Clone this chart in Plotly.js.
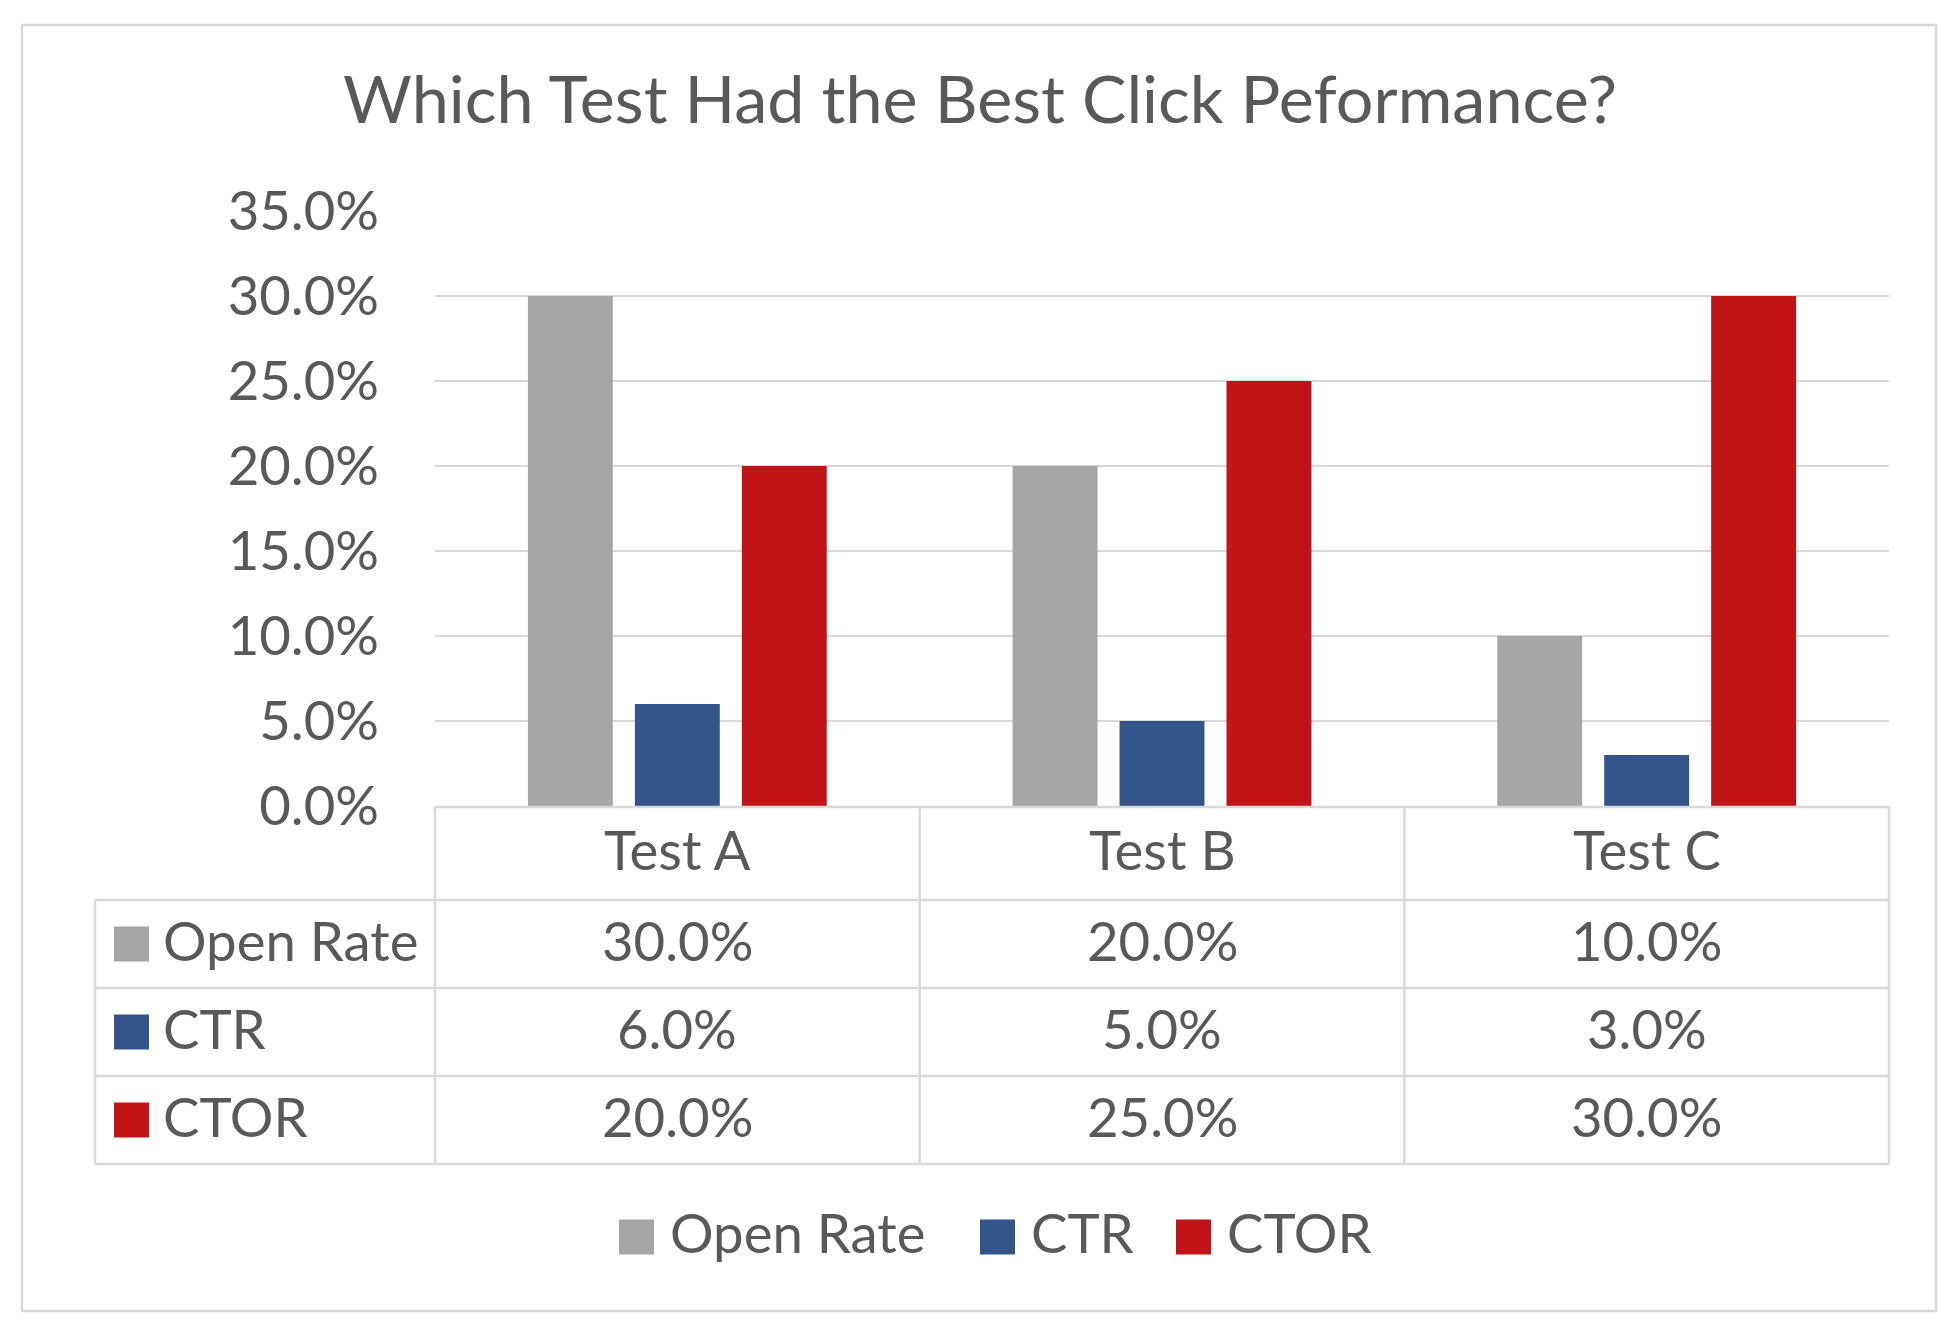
<!DOCTYPE html>
<html><head><meta charset="utf-8">
<script src="https://cdn.plot.ly/plotly-3.0.1.min.js"></script>
<style>html,body{margin:0;padding:0;background:#fff}#chart{width:1957px;height:1344px}</style>
</head><body><div id="chart"></div>
<script>
// ---- data ----
const categories = ['Test A', 'Test B', 'Test C'];
const seriesNames = ['Open Rate', 'CTR', 'CTOR'];
const openRate = [0.30, 0.20, 0.10];
const ctr = [0.06, 0.05, 0.03];
const ctor = [0.20, 0.25, 0.30];
const seriesColors = ['#a6a6a6', '#345589', '#c01416'];
const chartTitle = 'Which Test Had the Best Click Peformance?';

// ---- layout helpers ----
const W = 1957, H = 1344;
const L = 435, R = 1889, T = 211, B = 806;
const px = x => (x - L) / (R - L);
const py = y => (B - y) / (B - T);
const FONT = 'Lato, "Open Sans", sans-serif';
const TXT = '#595959';
const GRID = '#d9d9d9';
const FS = 54.5;
const series = [openRate, ctr, ctor];
const fmt = v => (v * 100).toFixed(1) + '%';

const traces = series.map((vals, i) => ({
  type: 'bar', x: categories, y: vals, name: seriesNames[i],
  marker: {color: seriesColors[i], line: {width: 0}}, showlegend: false
}));

const shapes = [];
const annotations = [];

// outer frame
shapes.push({type: 'rect', xref: 'paper', yref: 'paper', x0: px(22), x1: px(1936), y0: py(25), y1: py(1311),
  line: {color: GRID, width: 2.5}, layer: 'below'});

// data table grid
const rowLines = [807, 900, 988, 1076, 1164];
const tableLeft = 95;
const colW = (R - L) / categories.length;
rowLines.forEach((y, i) => {
  shapes.push({type: 'line', xref: 'paper', yref: 'paper', x0: px(i === 0 ? L : tableLeft), x1: px(R), y0: py(y), y1: py(y),
    line: {color: GRID, width: 2.5}});
});
for (let c = 0; c <= categories.length; c++) {
  const x = L + c * colW;
  shapes.push({type: 'line', xref: 'paper', yref: 'paper', x0: px(x), x1: px(x), y0: py(807), y1: py(1164),
    line: {color: GRID, width: 2.5}});
}
shapes.push({type: 'line', xref: 'paper', yref: 'paper', x0: px(tableLeft), x1: px(tableLeft), y0: py(900), y1: py(1164),
  line: {color: GRID, width: 2.5}});

const TEXT_SHIFT = -4;
// header row (category labels)
categories.forEach(cat => {
  annotations.push({xref: 'x', yref: 'paper', x: cat, y: py(853 + TEXT_SHIFT), text: cat, showarrow: false,
    xanchor: 'center', yanchor: 'middle', font: {family: FONT, size: FS, color: TXT}});
});

// data rows
series.forEach((vals, r) => {
  const yc = (rowLines[r + 1] + rowLines[r + 2]) / 2;
  shapes.push({type: 'rect', xref: 'paper', yref: 'paper', x0: px(114), x1: px(149), y0: py(yc - 17.5), y1: py(yc + 17.5),
    fillcolor: seriesColors[r], line: {width: 0}});
  annotations.push({xref: 'paper', yref: 'paper', x: px(161), y: py(yc + TEXT_SHIFT), text: seriesNames[r], showarrow: false,
    xanchor: 'left', yanchor: 'middle', font: {family: FONT, size: FS, color: TXT}});
  vals.forEach((v, c) => {
    annotations.push({xref: 'x', yref: 'paper', x: categories[c], y: py(yc + TEXT_SHIFT), text: fmt(v), showarrow: false,
      xanchor: 'center', yanchor: 'middle', font: {family: FONT, size: FS, color: TXT}});
  });
});

// custom legend
const legendSquares = [619, 980, 1176];
const legendY = 1237;
seriesNames.forEach((name, i) => {
  const x0 = legendSquares[i];
  shapes.push({type: 'rect', xref: 'paper', yref: 'paper', x0: px(x0), x1: px(x0 + 35), y0: py(legendY - 17.5), y1: py(legendY + 17.5),
    fillcolor: seriesColors[i], line: {width: 0}});
  annotations.push({xref: 'paper', yref: 'paper', x: px(x0 + 49), y: py(legendY - 5), text: name, showarrow: false,
    xanchor: 'left', yanchor: 'middle', font: {family: FONT, size: FS, color: TXT}});
});

const layout = {
  width: W, height: H,
  margin: {l: L, r: W - R, t: T, b: H - B, pad: 0},
  paper_bgcolor: '#ffffff', plot_bgcolor: '#ffffff',
  title: {text: chartTitle, font: {family: FONT, size: 66.5, color: TXT}, x: 980 / W, xref: 'container', xanchor: 'center',
    y: 1 - 100 / H, yref: 'container', yanchor: 'middle'},
  barmode: 'group', bargap: 0.338, bargroupgap: 0.206,
  xaxis: {type: 'category', showticklabels: false, ticks: '', showgrid: false, zeroline: false, showline: false,
    range: [-0.5, 2.5]},
  yaxis: {range: [0, 0.35], dtick: 0.05, tick0: 0, tickformat: '.1%', showgrid: true, gridcolor: GRID, gridwidth: 2.5,
    zeroline: false, showline: false, ticks: '', ticklabelstandoff: 55,
    tickfont: {family: FONT, size: FS, color: TXT}},
  shapes: shapes, annotations: annotations, showlegend: false
};

Plotly.newPlot('chart', traces, layout, {staticPlot: true, displayModeBar: false});
</script></body></html>
